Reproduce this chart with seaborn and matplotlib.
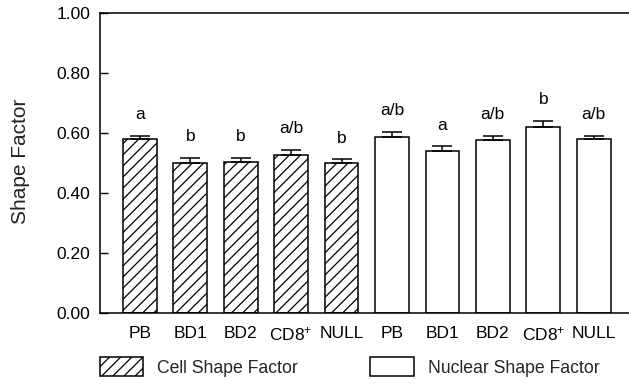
import matplotlib
matplotlib.use("Agg")
import matplotlib.pyplot as plt
import seaborn as sns
import pandas as pd
from matplotlib.patches import Patch

# ---- data ----
groups = ["PB", "BD1", "BD2", "CD8$^{+}$", "NULL"]
cell_values = [0.580, 0.500, 0.503, 0.528, 0.500]
cell_err = [0.011, 0.017, 0.015, 0.017, 0.012]
cell_letters = ["a", "b", "b", "a/b", "b"]
nuc_values = [0.588, 0.541, 0.577, 0.621, 0.579]
nuc_err = [0.017, 0.014, 0.013, 0.019, 0.011]
nuc_letters = ["a/b", "a", "a/b", "b", "a/b"]
series_names = ["Cell Shape Factor", "Nuclear Shape Factor"]
y_ticks = [0.0, 0.2, 0.4, 0.6, 0.8, 1.0]

sns.set_theme(style="white")
plt.rcParams["font.family"] = ["Liberation Sans", "DejaVu Sans"]
plt.rcParams["mathtext.default"] = "regular"
plt.rcParams["hatch.linewidth"] = 0.9

keys = [f"c{i}" for i in range(len(groups))] + [f"n{i}" for i in range(len(groups))]
df = pd.DataFrame({
    "key": keys,
    "value": cell_values + nuc_values,
    "err": cell_err + nuc_err,
    "letter": cell_letters + nuc_letters,
    "series": [series_names[0]] * len(groups) + [series_names[1]] * len(groups),
})

fig = plt.figure(figsize=(6.29, 3.89), dpi=100)
ax = fig.add_axes([100 / 629, 1 - 313 / 389, 1 - 100 / 629, 300 / 389])

sns.barplot(data=df, x="key", y="value", order=keys, color="white",
            edgecolor="black", linewidth=1.1, width=0.67, ax=ax, errorbar=None)

for i, p in enumerate(ax.patches):
    p.set_facecolor("white")
    p.set_edgecolor("black")
    if i < len(groups):
        p.set_hatch("///")

xs = list(range(len(keys)))
ax.errorbar(xs, df["value"], yerr=[[0] * len(keys), df["err"]], fmt="none",
            ecolor="black", elinewidth=1.1, capsize=7, capthick=1.1, zorder=3)

for x, v, e, t in zip(xs, df["value"], df["err"], df["letter"]):
    ax.annotate(t, xy=(x, v + e), xytext=(0, 10), textcoords="offset points",
                ha="center", va="bottom", fontsize=12.5, color="black")

ax.set_xlim(-0.79, 9.70)
ax.set_ylim(0, 1.0)
ax.set_yticks(y_ticks)
ax.set_yticklabels([f"{t:.2f}" for t in y_ticks])
ax.set_xticks(xs)
ax.set_xticklabels(groups + groups)
ax.set_xlabel("")
ax.set_ylabel("Shape Factor", fontsize=15, color="#222222")
ax.yaxis.set_label_coords(-(100 - 30) / 529, 0.507)
ax.tick_params(axis="y", direction="in", length=6, width=1, labelsize=12.5,
               pad=7, left=True, colors="black")
ax.tick_params(axis="x", length=0, labelsize=12.5, pad=9, colors="black")
for s in ["left", "bottom", "top"]:
    ax.spines[s].set_visible(True)
    ax.spines[s].set_color("black")
    ax.spines[s].set_linewidth(1.1)
ax.spines["right"].set_visible(False)

handles = [Patch(facecolor="white", edgecolor="black", hatch="///", linewidth=1.1),
           Patch(facecolor="white", edgecolor="black", linewidth=1.1)]
fig.legend(handles, series_names, loc="upper left",
           bbox_to_anchor=(100 / 629, 1 - 357 / 389), ncol=2, frameon=False,
           fontsize=12.7, handlelength=2.45, handleheight=1.3, handletextpad=0.8,
           columnspacing=4.1, borderpad=0, borderaxespad=0)

fig.savefig("out.png", dpi=100)
